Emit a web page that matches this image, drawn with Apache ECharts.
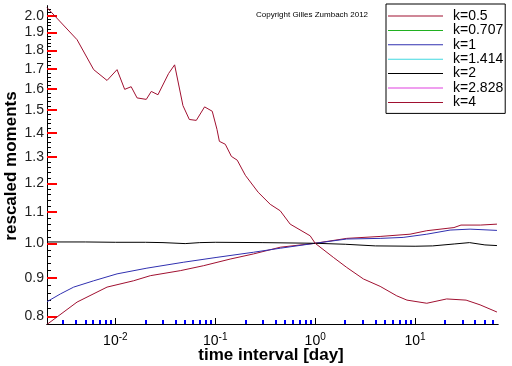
<!DOCTYPE html>
<html><head><meta charset="utf-8">
<script src="https://cdn.jsdelivr.net/npm/echarts@6/dist/echarts.min.js"></script>
<style>html,body{margin:0;padding:0;background:#fff}#c{width:512px;height:366px}</style>
</head><body><div id="c"></div>
<script>
// ---- data ----
const seriesNames = ['k=0.5','k=0.707','k=1','k=1.414','k=2','k=2.828','k=4'];
const xK05 = [0.00207,0.00414,0.00826,0.0152,0.0224,0.0447,0.0765,0.141,0.241,0.447,1.0,2.07,4.47,8.9,13.1,24.5,28.8,45,66];
const yK05 = [0.781,0.836,0.875,0.892,0.906,0.920,0.934,0.953,0.968,0.988,1.0,1.015,1.021,1.028,1.039,1.049,1.057,1.057,1.060];
const xK1 = [0.00207,0.00282,0.00383,0.00607,0.0104,0.0207,0.0484,0.104,0.241,0.447,1.0,2.07,4.47,7.59,13.1,22.4,35.5,66];
const yK1 = [0.837,0.857,0.875,0.892,0.911,0.927,0.944,0.958,0.973,0.985,1.0,1.013,1.015,1.018,1.028,1.041,1.044,1.040];
const xK2 = [0.00207,0.005,0.01,0.02,0.03,0.05,0.07,0.1,0.3,1,2,4,10,15,25,35,50,66];
const yK2 = [1.004,1.004,1.003,1.003,1.002,0.999,1.002,1.003,1.002,1.0,0.997,0.992,0.991,0.992,0.998,1.002,0.995,0.993];
const xK4 = [0.00207,0.00414,0.00607,0.00826,0.0104,0.0124,0.0144,0.0165,0.0204,0.0229,0.0267,0.0341,0.0392,0.0475,0.055,0.0646,0.0782,0.0933,0.104,0.110,0.126,0.145,0.166,0.200,0.269,0.355,0.447,0.562,0.891,1.0,1.52,2.07,3.04,4.47,6.56,8.30,13.1,20.7,32.4,44.7,66];
const yK4 = [2.05,1.859,1.697,1.642,1.697,1.598,1.611,1.557,1.550,1.588,1.572,1.677,1.722,1.521,1.458,1.454,1.515,1.495,1.415,1.364,1.352,1.303,1.288,1.230,1.168,1.126,1.104,1.060,1.023,1.0,0.958,0.929,0.897,0.877,0.852,0.841,0.833,0.844,0.841,0.829,0.811];
const xTickLabels = [0.01,0.1,1,10];
const yTickLabels = [0.8,0.9,1.0,1.1,1.2,1.3,1.4,1.5,1.6,1.7,1.8,1.9,2.0];

const lg = Math.log10;
const xMinor = [];
for (let e = -3; e <= 1; e++) for (let m = 2; m <= 9; m++) { const v = m * Math.pow(10, e); if (v > 0.00207 && v < 67) xMinor.push(lg(v)); }
const yMinor = [];
for (let i = 40; i <= 102; i++) { if (i % 5 !== 0) yMinor.push(lg(i * 0.02)); }

const X_MIN = 0.00207, X_MAX = 67.6, Y_MIN = 0.782, Y_MAX = 2.06;
const colors = ['#a01030','#20b020','#3030b0','#40d8e0','#000000','#e040e0','#a01030'];
const zip = (xs, ys) => xs.map((x, i) => [x, ys[i]]);
const dataMap = {'k=0.5': zip(xK05, yK05), 'k=1': zip(xK1, yK1), 'k=2': zip(xK2, yK2), 'k=4': zip(xK4, yK4)};
const font = 'Liberation Sans, Arial, sans-serif';

const chart = echarts.init(document.getElementById('c'));
chart.setOption({
  animation: false,
  grid: {left: 47, top: 6, right: 14, bottom: 42},
  legend: {
    orient: 'vertical', left: 386, top: 4, data: seriesNames,
    icon: 'rect', itemWidth: 55, itemHeight: 1, itemGap: 0.4, padding: [5, 2, 4, 2],
    backgroundColor: '#fff', borderColor: '#000', borderWidth: 1,
    textStyle: {fontFamily: font, fontSize: 14, lineHeight: 12, color: '#000', padding: [0, 0, 0, 5]}
  },
  xAxis: [
    {type: 'log', min: X_MIN, max: X_MAX, axisLine: {show: true, onZero: false, lineStyle: {color: '#000'}},
     axisTick: {show: true, inside: true, length: 6, lineStyle: {color: '#000'}},
     axisLabel: {show: true, showMinLabel: false, showMaxLabel: false, color: '#000', fontFamily: font,
       formatter: v => '{b|10}{e|' + Math.round(Math.log10(v)) + '}',
       rich: {b: {fontSize: 14, fontFamily: font, color: '#000', lineHeight: 16, verticalAlign: 'bottom'},
              e: {fontSize: 10, fontFamily: font, color: '#000', lineHeight: 16, verticalAlign: 'top'}}},
     splitLine: {show: false}},
    {type: 'value', min: lg(X_MIN), max: lg(X_MAX), position: 'bottom', axisLine: {show: true, onZero: false, lineStyle: {color: '#000'}},
     axisTick: {show: true, inside: true, length: 4, customValues: xMinor, lineStyle: {color: 'blue', width: 2}},
     axisLabel: {show: false}, splitLine: {show: false}}
  ],
  yAxis: [
    {type: 'log', min: Y_MIN, max: Y_MAX, axisLine: {show: true, onZero: false, lineStyle: {color: '#000'}},
     axisTick: {show: false}, axisLabel: {show: false}, splitLine: {show: false}},
    {type: 'value', position: 'left', min: lg(Y_MIN), max: lg(Y_MAX), axisLine: {show: true, onZero: false, lineStyle: {color: '#000'}},
     axisTick: {show: true, inside: true, length: 10, customValues: yTickLabels.map(lg), lineStyle: {color: 'red', width: 2}},
     axisLabel: {customValues: yTickLabels.map(lg), margin: 3, color: '#222', fontFamily: font, fontSize: 14, formatter: v => Math.pow(10, v).toFixed(1)},
     splitLine: {show: false}},
    {type: 'value', position: 'left', min: lg(Y_MIN), max: lg(Y_MAX), axisLine: {show: true, onZero: false, lineStyle: {color: '#000'}},
     axisTick: {show: true, inside: true, length: 4, customValues: yMinor, lineStyle: {color: '#000'}},
     axisLabel: {show: false}, splitLine: {show: false}}
  ],
  series: seriesNames.map((n, i) => ({
    name: n, type: 'line', data: dataMap[n] || [], showSymbol: false, symbol: 'none',
    lineStyle: {color: colors[i], width: 1}, itemStyle: {color: colors[i]}
  })),
  graphic: [
    {type: 'text', left: 256, top: 11, style: {text: 'Copyright Gilles Zumbach 2012', fontFamily: font, fontSize: 8, fill: '#000'}},
    {type: 'text', x: 271, y: 355, style: {text: 'time interval [day]', fontFamily: font, fontSize: 17, fontWeight: 'bold', fill: '#000', align: 'center', verticalAlign: 'middle'}},
    {type: 'text', x: 11, y: 166, rotation: Math.PI / 2, style: {text: 'rescaled moments', fontFamily: font, fontSize: 17, fontWeight: 'bold', fill: '#000', align: 'center', verticalAlign: 'middle'}}
  ]
});
</script></body></html>
